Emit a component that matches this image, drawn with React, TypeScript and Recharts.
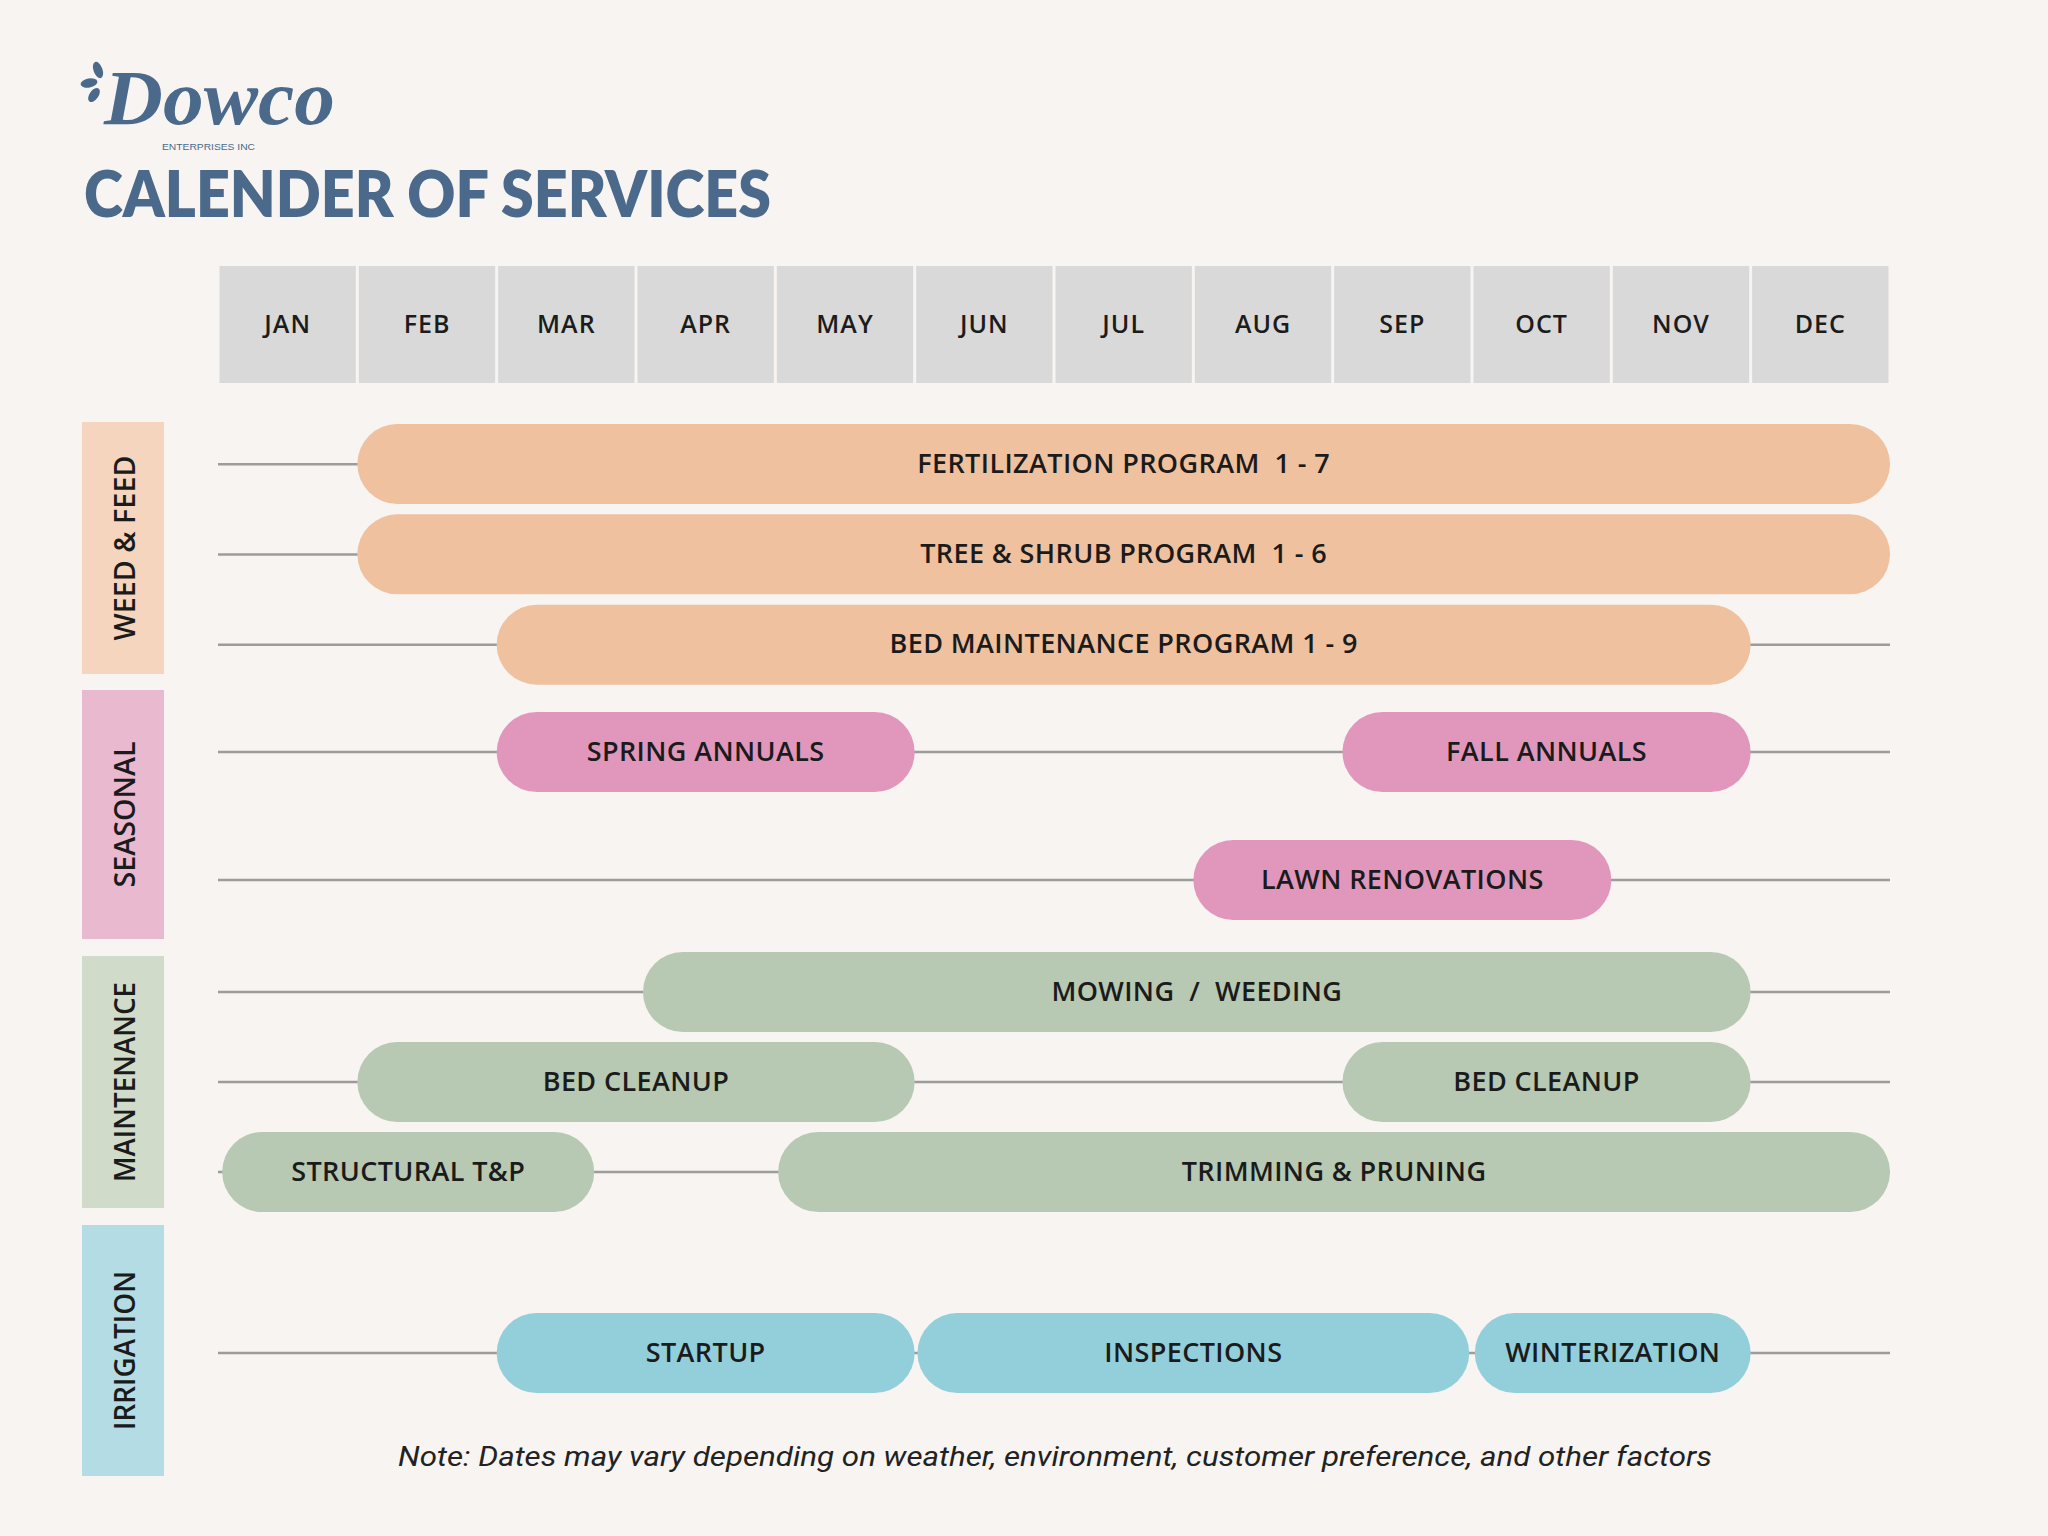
import React from 'react';
import { BarChart, Bar, XAxis, YAxis, ReferenceLine } from 'recharts';

// months along the top header
const MONTHS = ['JAN', 'FEB', 'MAR', 'APR', 'MAY', 'JUN', 'JUL', 'AUG', 'SEP', 'OCT', 'NOV', 'DEC'];
const MONTH_TICKS = MONTHS.map((_, i) => i + 0.5);

const CATEGORIES = ['WEED & FEED', 'SEASONAL', 'MAINTENANCE', 'IRRIGATION'];

// each row: service spans in month units (0 = start of Jan, 12 = end of Dec)
const WEED_FEED = [
  { id: 'fertilization', tasks: [{ label: 'FERTILIZATION PROGRAM  1 - 7', from: 1, to: 12 }] },
  { id: 'treeShrub', tasks: [{ label: 'TREE & SHRUB PROGRAM  1 - 6', from: 1, to: 12 }] },
  { id: 'bedMaintenance', tasks: [{ label: 'BED MAINTENANCE PROGRAM 1 - 9', from: 2, to: 11 }] },
];

const SEASONAL = [
  {
    id: 'annuals',
    tasks: [
      { label: 'SPRING ANNUALS', from: 2, to: 5 },
      { label: 'FALL ANNUALS', from: 8.07, to: 11 },
    ],
  },
  { id: 'lawn', tasks: [{ label: 'LAWN RENOVATIONS', from: 7, to: 10 }] },
];

const MAINTENANCE = [
  { id: 'mowing', tasks: [{ label: 'MOWING  /  WEEDING', from: 3.05, to: 11 }] },
  {
    id: 'bedCleanup',
    tasks: [
      { label: 'BED CLEANUP', from: 1, to: 5 },
      { label: 'BED CLEANUP', from: 8.07, to: 11 },
    ],
  },
  {
    id: 'trimming',
    tasks: [
      { label: 'STRUCTURAL T&P', from: 0.03, to: 2.7 },
      { label: 'TRIMMING & PRUNING', from: 4.02, to: 12 },
    ],
  },
];

const IRRIGATION = [
  {
    id: 'irrigation',
    tasks: [
      { label: 'STARTUP', from: 2, to: 5 },
      { label: 'INSPECTIONS', from: 5.02, to: 8.98 },
      { label: 'WINTERIZATION', from: 9.02, to: 11 },
    ],
  },
];

const NOTE = 'Note: Dates may vary depending on weather, environment, customer preference, and other factors';

const BG = '#f7f4f1';
const BLUE_INK = '#4b6a8b';
const PLOT_LEFT = 218;
const PLOT_W = 1672;
const CELL_W = PLOT_W / 12;
const HEADER_H = 153;

const BOXES = [
  { top: 422, bottom: 674, fill: '#f5d5bd', len: 185 },
  { top: 690, bottom: 939, fill: '#e9b9d0', len: 146 },
  { top: 956, bottom: 1208, fill: '#d1dbc9', len: 200 },
  { top: 1225, bottom: 1476, fill: '#b3dce4', len: 159 },
];

const toChartRows = (rows: any[]) =>
  rows.map((r) => {
    const o: any = { id: r.id };
    r.tasks.forEach((t: any, i: number) => {
      o[`s${i}`] = [t.from, t.to];
      o[`l${i}`] = t.label;
    });
    return o;
  });

const MonthTick = (props: any) => {
  const { x, payload } = props;
  const i = Math.floor(payload.value);
  return (
    <g>
      <rect x={x - CELL_W / 2 + 1.5} y={0} width={CELL_W - 3} height={117} fill="#d9d9d9" />
      <text
        x={x}
        y={67}
        textAnchor="middle"
        fontFamily="'Open Sans', sans-serif"
        fontWeight={600}
        fontSize={25}
        letterSpacing={1}
        fill="#1c1c1c"
      >
        {MONTHS[i]}
      </text>
    </g>
  );
};

const Pill = (props: any) => {
  const { x, y, width, height, label, color } = props;
  if (!label || !(width > 0)) return <g />;
  const r = height / 2;
  return (
    <g>
      <rect x={x} y={y} width={width} height={height} rx={r} ry={r} fill={color} />
      <text
        x={x + width / 2}
        y={y + height / 2 + 8.5}
        textAnchor="middle"
        fontFamily="'Open Sans', sans-serif"
        fontWeight={600}
        fontSize={27}
        letterSpacing={0.4}
        fill="#1b1b1b"
        style={{ whiteSpace: 'pre' }}
      >
        {label}
      </text>
    </g>
  );
};

function GroupChart({ rows, color, top, height, header }: any) {
  const data = toChartRows(rows);
  const segCount = Math.max(...rows.map((r: any) => r.tasks.length));
  const segIds = Array.from({ length: segCount }, (_, i) => i);
  return (
    <div style={{ position: 'absolute', left: PLOT_LEFT, top }}>
      <BarChart
        layout="vertical"
        width={PLOT_W}
        height={height}
        data={data}
        margin={{ top: 0, right: 0, bottom: 0, left: 0 }}
      >
        <XAxis
          type="number"
          domain={[0, 12]}
          ticks={MONTH_TICKS}
          orientation="top"
          hide={!header}
          height={header ? HEADER_H : 0}
          axisLine={false}
          tickLine={false}
          interval={0}
          tick={(p: any) => <MonthTick {...p} />}
        />
        {segIds.map((k) => (
          <YAxis key={k} yAxisId={k} type="category" dataKey="id" hide />
        ))}
        {rows.map((r: any) => (
          <ReferenceLine key={r.id} yAxisId={0} y={r.id} stroke="#9c9c9c" strokeWidth={2.5} zIndex={50} />
        ))}
        {segIds.map((k) => (
          <Bar
            key={k}
            yAxisId={k}
            dataKey={`s${k}`}
            barSize={80}
            fill={color}
            isAnimationActive={false}
            shape={(p: any) => <Pill {...p} label={p.payload?.[`l${k}`]} color={color} />}
          />
        ))}
      </BarChart>
    </div>
  );
}

export default function App() {
  return (
    <div style={{ position: 'absolute', left: 0, top: 0, width: 2048, height: 1536, background: BG, overflow: 'hidden' }}>
      <svg width={2048} height={1536} style={{ position: 'absolute', left: 0, top: 0 }}>
        {/* logo */}
        <g fill={BLUE_INK}>
          <ellipse cx={98} cy={70} rx={4.5} ry={8.5} transform="rotate(-20 98 70)" />
          <ellipse cx={89} cy={83} rx={8.5} ry={4.5} transform="rotate(-10 89 83)" />
          <ellipse cx={94} cy={95} rx={4.5} ry={8} transform="rotate(35 94 95)" />
        </g>
        <text
          x={104}
          y={124}
          textLength={231}
          lengthAdjust="spacingAndGlyphs"
          fontFamily="'Liberation Serif', serif"
          fontStyle="italic"
          fontWeight={700}
          fontSize={78}
          fill={BLUE_INK}
        >
          Dowco
        </text>
        <text
          x={162}
          y={150}
          textLength={93}
          lengthAdjust="spacingAndGlyphs"
          fontFamily="'Liberation Sans', sans-serif"
          fontSize={9}
          fill={BLUE_INK}
        >
          ENTERPRISES INC
        </text>
        <text
          x={84}
          y={217}
          textLength={687}
          lengthAdjust="spacingAndGlyphs"
          fontFamily="Lato, sans-serif"
          fontWeight={800}
          fontSize={65}
          fill={BLUE_INK}
        >
          CALENDER OF SERVICES
        </text>

        {/* category boxes */}
        {CATEGORIES.map((c, i) => {
          const b = BOXES[i];
          const cy = (b.top + b.bottom) / 2;
          return (
            <g key={c}>
              <rect x={82} y={b.top} width={82} height={b.bottom - b.top} fill={b.fill} />
              <text
                x={135}
                y={cy}
                transform={`rotate(-90 135 ${cy})`}
                textAnchor="middle"
                textLength={b.len}
                lengthAdjust="spacingAndGlyphs"
                fontFamily="'Open Sans', sans-serif"
                fontWeight={600}
                fontSize={29}
                fill="#1b1b1b"
              >
                {c}
              </text>
            </g>
          );
        })}

        <text
          x={1055}
          y={1466}
          textAnchor="middle"
          textLength={1314}
          lengthAdjust="spacingAndGlyphs"
          fontFamily="Roboto, sans-serif"
          fontStyle="italic"
          fontSize={28}
          fill="#222"
        >
          {NOTE}
        </text>
      </svg>

      <GroupChart rows={WEED_FEED} color="#f0c19f" top={266} height={424} header />
      <GroupChart rows={SEASONAL} color="#e197bc" top={688} height={256} />
      <GroupChart rows={MAINTENANCE} color="#b7c9b2" top={947} height={270} />
      <GroupChart rows={IRRIGATION} color="#93cfdb" top={1263} height={180} />
    </div>
  );
}
